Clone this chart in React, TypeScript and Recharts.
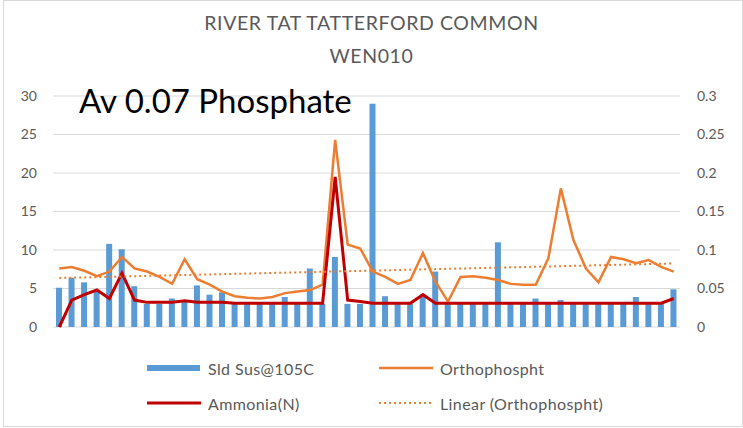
import React from 'react';
import { ComposedChart, Bar, Line, XAxis, YAxis, CartesianGrid } from 'recharts';

const samples = Array.from({ length: 50 }, (_, i) => `S${i + 1}`);

const sldSus = [
  5.1, 6.4, 5.8, 4.8, 10.8, 10.1, 5.3, 3, 3, 3.7,
  3.3, 5.4, 4.2, 4.5, 3, 3, 3, 3, 3.9, 3,
  7.6, 3, 9.1, 3, 3, 29, 4, 3, 3, 4,
  7.2, 3, 3, 3, 3, 11, 3, 3, 3.7, 3,
  3.5, 3, 3, 3, 3, 3, 3.9, 3, 3, 4.9,
];

const ammonia = [
  0, 0.035, 0.042, 0.048, 0.037, 0.07, 0.035, 0.032, 0.032, 0.032,
  0.034, 0.032, 0.032, 0.032, 0.031, 0.031, 0.031, 0.031, 0.031, 0.031,
  0.031, 0.031, 0.195, 0.035, 0.033, 0.031, 0.031, 0.031, 0.031, 0.042,
  0.031, 0.031, 0.031, 0.031, 0.031, 0.031, 0.031, 0.031, 0.031, 0.031,
  0.031, 0.031, 0.031, 0.031, 0.031, 0.031, 0.031, 0.031, 0.031, 0.037,
];

const ortho = [
  0.076, 0.078, 0.073, 0.066, 0.072, 0.091, 0.076, 0.072, 0.065, 0.056,
  0.088, 0.062, 0.055, 0.046, 0.04, 0.038, 0.037, 0.039, 0.044, 0.046,
  0.048, 0.055, 0.243, 0.107, 0.102, 0.072, 0.065, 0.056, 0.061, 0.096,
  0.059, 0.033, 0.065, 0.066, 0.064, 0.061, 0.056, 0.055, 0.055, 0.089,
  0.18, 0.113, 0.076, 0.058, 0.091, 0.088, 0.083, 0.087, 0.078, 0.072,
];

const leftTicks = [0, 5, 10, 15, 20, 25, 30];
const rightTicks = [0, 0.05, 0.1, 0.15, 0.2, 0.25, 0.3];

// least-squares trend of the orthophosphate series, as the spreadsheet draws it
const n = ortho.length;
const mx = (n - 1) / 2;
const my = ortho.reduce((a, b) => a + b, 0) / n;
let sxy = 0;
let sxx = 0;
ortho.forEach((v, i) => {
  sxy += (i - mx) * (v - my);
  sxx += (i - mx) * (i - mx);
});
const slope = sxy / sxx;

const data = samples.map((s, i) => ({
  sample: s,
  sld: sldSus[i],
  ammonia: ammonia[i],
  ortho: ortho[i],
  trend: my + slope * (i - mx),
}));

const FONT = 'Lato, "Open Sans", sans-serif';
const GREY = '#595959';

const LegendItem = ({ x, y, label, kind }: { x: number; y: number; label: string; kind: string }) => (
  <div style={{ position: 'absolute', left: x, top: y - 10, height: 20, display: 'flex', alignItems: 'center' }}>
    <svg width={57} height={10} style={{ marginRight: 4 }}>
      {kind === 'bar' && <rect x={0} y={2} width={53} height={6} fill="#5B9BD5" />}
      {kind === 'ortho' && <line x1={0} y1={5} x2={54} y2={5} stroke="#ED7D31" strokeWidth={2.5} />}
      {kind === 'ammonia' && <line x1={0} y1={5} x2={54} y2={5} stroke="#C00000" strokeWidth={3} />}
      {kind === 'trend' && <line x1={0} y1={5} x2={52} y2={5} stroke="#ED7D31" strokeWidth={2} strokeDasharray="2 3" />}
    </svg>
    <span style={{ fontSize: 16, letterSpacing: 0.4, color: GREY, fontFamily: FONT }}>{label}</span>
  </div>
);

export default function App() {
  return (
    <div style={{ position: 'absolute', left: 0, top: 0, width: 743, height: 428, background: '#fff', fontFamily: FONT }}>
      <div style={{ position: 'absolute', left: 3, top: 0, width: 738, height: 425, border: '1px solid #d9d9d9' }} />
      <div style={{ position: 'absolute', left: 0, top: 6, width: 743, textAlign: 'center', color: GREY, fontSize: 19.5, lineHeight: '33px', letterSpacing: 0.6 }}>
        RIVER TAT TATTERFORD COMMON
        <br />
        WEN010
      </div>
      <ComposedChart
        width={743}
        height={428}
        data={data}
        margin={{ top: 96, right: 0, bottom: 101, left: 0 }}
        style={{ position: 'absolute', left: 0, top: 0 }}
      >
        <CartesianGrid vertical={false} stroke="#d9d9d9" yAxisId="left" />
        <XAxis dataKey="sample" hide />
        <YAxis
          yAxisId="left"
          domain={[0, 30]}
          ticks={leftTicks}
          width={53}
          axisLine={false}
          tickLine={false}
          tickMargin={10}
          tick={{ fill: GREY, fontSize: 14, fontFamily: FONT }}
        />
        <YAxis
          yAxisId="right"
          orientation="right"
          domain={[0, 0.3]}
          ticks={rightTicks}
          width={63}
          axisLine={false}
          tickLine={false}
          tickMargin={11}
          tick={{ fill: GREY, fontSize: 14, fontFamily: FONT }}
        />
        <Bar yAxisId="left" dataKey="sld" fill="#5B9BD5" barSize={6} isAnimationActive={false} />
        <Line yAxisId="right" dataKey="ortho" stroke="#ED7D31" strokeWidth={2.5} dot={false} isAnimationActive={false} />
        <Line yAxisId="right" dataKey="ammonia" stroke="#C00000" strokeWidth={3} dot={false} isAnimationActive={false} />
        <Line yAxisId="right" dataKey="trend" stroke="#ED7D31" strokeWidth={2} strokeDasharray="2 3" dot={false} isAnimationActive={false} />
      </ComposedChart>
      <div style={{ position: 'absolute', left: 79, top: 80, fontSize: 33, color: '#000', fontFamily: FONT, lineHeight: '40px' }}>
        Av 0.07 Phosphate
      </div>
      <LegendItem x={147} y={368} label="Sld Sus@105C" kind="bar" />
      <LegendItem x={379} y={368} label="Orthophospht" kind="ortho" />
      <LegendItem x={147} y={403} label="Ammonia(N)" kind="ammonia" />
      <LegendItem x={379} y={403} label="Linear (Orthophospht)" kind="trend" />
    </div>
  );
}
